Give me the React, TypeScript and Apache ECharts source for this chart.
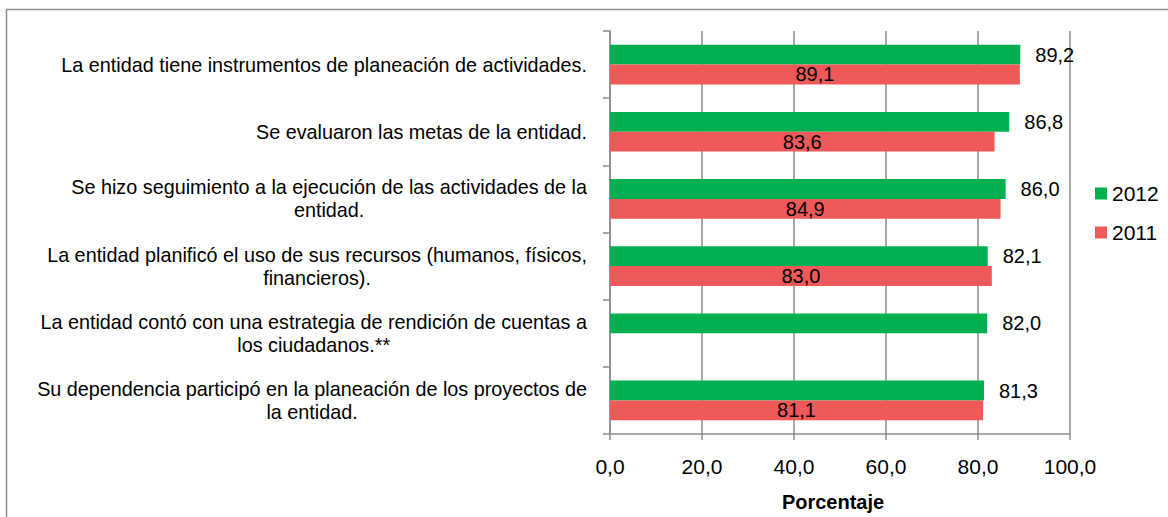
import React, { useEffect, useRef } from "react";
import * as echarts from "echarts";

const categories: string[] = [
  "La entidad tiene instrumentos de planeación de actividades.",
  "Se evaluaron las metas de la entidad.",
  "Se hizo seguimiento a la ejecución de las actividades de la\nentidad.",
  "La entidad planificó el uso de sus recursos (humanos, físicos,\nfinancieros).",
  "La entidad contó con una estrategia de rendición de cuentas a\nlos ciudadanos.**",
  "Su dependencia participó en la planeación de los proyectos de\nla entidad.",
];
const values2012: (number | null)[] = [89.2, 86.8, 86.0, 82.1, 82.0, 81.3];
const values2011: (number | null)[] = [89.1, 83.6, 84.9, 83.0, null, 81.1];
const seriesNames: string[] = ["2012", "2011"];
const xTicks = { min: 0, max: 100, interval: 20 };

const NARROW = "'Liberation Sans Narrow', 'Arial Narrow', 'Liberation Sans', sans-serif";
const REGULAR = "'Liberation Sans', Arial, sans-serif";
const fmt = (v: number) => v.toFixed(1).replace(".", ",");

export default function App() {
  const ref = useRef<HTMLDivElement>(null);
  useEffect(() => {
    if (!ref.current) return;
    const chart = echarts.init(ref.current, undefined, { renderer: "svg" });
    chart.setOption({
      animation: false,
      backgroundColor: "#ffffff",
      graphic: [
        {
          type: "rect",
          shape: { x: 6.5, y: 9.5, width: 1300, height: 700 },
          style: { fill: "none", stroke: "#8c8c8c", lineWidth: 1.5 },
          silent: true,
        },
      ],
      legend: {
        orient: "vertical",
        left: 1090,
        top: 178,
        itemWidth: 12,
        itemHeight: 12,
        itemGap: 18,
        icon: "rect",
        textStyle: { fontFamily: REGULAR, fontSize: 21, color: "#000" },
        data: seriesNames,
      },
      grid: { left: 610, right: 98, top: 31, bottom: 78 },
      xAxis: {
        type: "value",
        min: xTicks.min,
        max: xTicks.max,
        interval: xTicks.interval,
        name: "Porcentaje",
        nameLocation: "middle",
        nameGap: 58,
        nameTextStyle: {
          fontFamily: REGULAR,
          fontSize: 20,
          fontWeight: "bold",
          color: "#000",
          padding: [0, 14, 0, 0],
        },
        axisLine: { show: true, lineStyle: { color: "#8c8c8c", width: 1.5 } },
        axisTick: { show: true, length: 6, lineStyle: { color: "#8c8c8c", width: 1.5 } },
        splitLine: { show: true, lineStyle: { color: "#8c8c8c", width: 1.5 } },
        axisLabel: {
          formatter: (v: number) => fmt(v),
          fontFamily: REGULAR,
          fontSize: 21,
          color: "#000",
          margin: 22,
        },
      },
      yAxis: {
        type: "category",
        inverse: true,
        data: categories,
        axisLine: { show: true, lineStyle: { color: "#8c8c8c", width: 1.5 } },
        axisTick: { show: true, length: 7, lineStyle: { color: "#8c8c8c", width: 1.5 } },
        splitLine: { show: false },
        axisLabel: {
          margin: 23,
          formatter: (v: string) =>
            v
              .split("\n")
              .map((l) => `{c|${l}}`)
              .join("\n"),
          rich: {
            c: {
              align: "center",
              fontFamily: NARROW,
              fontSize: 19.8,
              lineHeight: 23,
              color: "#000",
            },
          },
        },
      },
      series: [
        {
          name: seriesNames[0],
          type: "bar",
          data: values2012,
          barGap: "0%",
          barCategoryGap: "41%",
          itemStyle: { color: "#00B050" },
          label: {
            show: true,
            position: "right",
            distance: 15,
            formatter: (p: any) => fmt(p.value),
            fontFamily: NARROW,
            fontSize: 20,
            color: "#000",
          },
        },
        {
          name: seriesNames[1],
          type: "bar",
          data: values2011,
          barGap: "0%",
          barCategoryGap: "41%",
          itemStyle: { color: "#F05959" },
          label: {
            show: true,
            position: "inside",
            formatter: (p: any) => fmt(p.value),
            fontFamily: NARROW,
            fontSize: 20,
            color: "#000",
          },
        },
      ],
    });
    return () => chart.dispose();
  }, []);
  return (
    <div
      ref={ref}
      style={{ position: "absolute", left: 0, top: 0, width: 1168, height: 517 }}
    />
  );
}
